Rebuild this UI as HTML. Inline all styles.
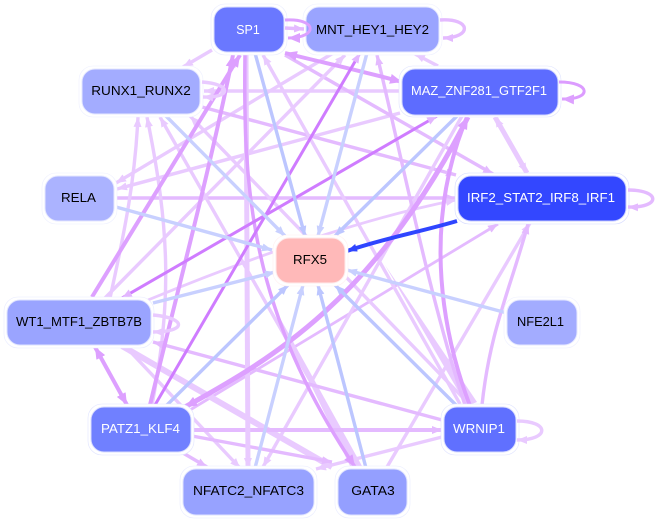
<!DOCTYPE html>
<html><head><meta charset="utf-8"><style>
html,body{margin:0;padding:0;background:#fff;width:657px;height:521px;overflow:hidden}
svg{display:block}
text{font-family:"Liberation Sans",sans-serif;font-size:13.3px;text-anchor:middle}
.l{fill:none;stroke:#e9caff;stroke-width:3.4;marker-end:url(#al)}
.m{fill:none;stroke:#e4baff;stroke-width:3.4;marker-end:url(#am)}
.d{fill:none;stroke:#dda0ff;stroke-width:4;marker-end:url(#ad)}
.p{fill:none;stroke:#cf7cff;stroke-width:3;marker-end:url(#ap)}
.b{fill:none;stroke:#bcc6ff;stroke-width:3.4;marker-end:url(#ab)}
.c{fill:none;stroke:#c8d0ff;stroke-width:3.4;marker-end:url(#ac)}
.n{fill:none;stroke:#2f45ff;stroke-width:4;marker-end:url(#as)}
.o{fill:#fff;stroke-width:.6}
</style></head><body>
<svg width="657" height="521" viewBox="0 0 657 521" xmlns="http://www.w3.org/2000/svg">
<defs>
<marker id="al" markerUnits="userSpaceOnUse" markerWidth="12" markerHeight="10" refX="10" refY="4" orient="auto-start-reverse"><path d="M0,0L10,4L0,8z" fill="#e9caff"/></marker>
<marker id="am" markerUnits="userSpaceOnUse" markerWidth="12" markerHeight="10" refX="10" refY="4" orient="auto-start-reverse"><path d="M0,0L10,4L0,8z" fill="#e4baff"/></marker>
<marker id="ad" markerUnits="userSpaceOnUse" markerWidth="14" markerHeight="12" refX="12" refY="5" orient="auto-start-reverse"><path d="M0,0L12,5L0,10z" fill="#dda0ff"/></marker>
<marker id="ap" markerUnits="userSpaceOnUse" markerWidth="12" markerHeight="10" refX="10" refY="4" orient="auto-start-reverse"><path d="M0,0L10,4L0,8z" fill="#e3b6ff"/></marker>
<marker id="ab" markerUnits="userSpaceOnUse" markerWidth="12" markerHeight="10" refX="10" refY="4" orient="auto-start-reverse"><path d="M0,0L10,4L0,8z" fill="#bcc6ff"/></marker>
<marker id="ac" markerUnits="userSpaceOnUse" markerWidth="12" markerHeight="10" refX="10" refY="4" orient="auto-start-reverse"><path d="M0,0L10,4L0,8z" fill="#c8d0ff"/></marker>
<marker id="as" markerUnits="userSpaceOnUse" markerWidth="12" markerHeight="10" refX="10" refY="4" orient="auto-start-reverse"><path d="M0,0L10,4L0,8z" fill="#2f45ff"/></marker>
</defs>

<!-- light edges -->
<path class="l" d="M212,50L183,67"/>
<path class="l" d="M438,66L415,54"/>
<path class="l" style="stroke-width:5;marker-start:url(#al)" d="M495,117L527,173"/>
<path class="l" d="M402,91L204,91"/>
<path class="l" d="M400,113L117,189"/>
<path class="l" d="M335,52L116,183"/>
<path class="m" d="M116,198L456,198"/>
<path class="m" d="M202,107L456,175"/>
<path class="m" d="M285,55L493,174"/>
<path class="m" style="stroke-width:2.8" d="M190,410L498,224"/>
<path class="l" d="M387,467L530,223"/>
<path class="m" d="M482,405C490,330 510,290 528,224"/>
<path class="l" style="stroke-width:2.8" d="M148,300Q330,225 456,200"/>
<path class="l" d="M470,405L190,116"/>
<polygon points="385,265 467,406 477,402" fill="#e9caff"/>
<path class="l" d="M460,404L263,55"/>
<path class="l" d="M105,298L345,55"/>
<path class="l" d="M462,116L263,467"/>
<path class="l" d="M110,298C125,230 135,180 138,117"/>
<path class="l" d="M152,405C172,300 170,230 147,117"/>
<path class="l" d="M360,468L160,117"/>
<polygon points="270,300 351,468 362,466" fill="#e9caff"/>
<path class="l" d="M125,346L240,468"/>
<path class="l" style="stroke-width:6" d="M122,346L332,467"/>
<path class="m" d="M442,420L153,342"/>
<path class="l" d="M442,437L316,469"/>
<path class="m" style="stroke-width:4" d="M192,430L442,430"/>
<path class="m" d="M192,436L332,462"/>
<path class="m" d="M183,453L207,467"/>
<path class="d" style="stroke-width:4;marker-start:url(#ad)" d="M95,347L127,405"/>
<path class="l" style="stroke-width:5" d="M246,54L248,468"/>
<path class="m" d="M465,405C430,300 400,150 377,55"/>
<path class="d" style="stroke-width:3.500" d="M245,54C243,190 250,310 355,467"/>
<path class="d" style="stroke-width:4;marker-start:url(#ad)" d="M402,82C350,68 320,62 285,53"/>
<path class="d" style="stroke-width:4" d="M92,297L240,55"/>
<path class="d" style="stroke-width:4" d="M150,405C175,300 210,170 233,55"/>
<path class="d" style="stroke-width:5;marker-start:url(#ad)" d="M185,407C270,360 375,300 468,117"/>
<path class="d" d="M470,406C445,340 420,230 467,117"/>
<path class="p" style="marker-start:url(#ap)" d="M437,116L122,298"/>
<path class="p" d="M155,405L360,53"/>

<!-- blue edges -->
<path class="b" d="M255,53L305,236"/>
<path class="c" d="M367,53L318,236"/>
<path class="b" d="M457,116L335,236"/>
<path class="c" d="M165,115L285,236"/>
<path class="c" d="M116,207L272,250"/>
<path class="c" d="M153,303L275,272"/>
<path class="b" d="M166,406L288,285"/>
<path class="c" d="M255,468L303,285"/>
<path class="b" d="M366,468L318,285"/>
<path class="b" d="M457,406L335,285"/>
<path class="c" d="M507,313L347,270"/>
<path class="n" d="M457,221C420,232 385,238 347,251"/>

<!-- nodes -->
<g>
<rect class="o" x="211" y="4" width="76" height="51" rx="14" stroke="#e8ebff"/><rect x="214" y="7" width="70" height="45" rx="13" fill="#6a78ff" stroke="#d8dcff"/>
<text x="248" y="34" fill="#fff" textLength="23.500" lengthAdjust="spacingAndGlyphs">SP1</text>
<rect class="o" x="303" y="4" width="139" height="51" rx="14" stroke="#eef0ff"/><rect x="306" y="7" width="133" height="45" rx="13" fill="#9aa4ff" stroke="#e4e7ff"/>
<text x="372.500" y="34" fill="#000" textLength="113" lengthAdjust="spacingAndGlyphs">MNT_HEY1_HEY2</text>
<rect class="o" x="79" y="66" width="124" height="51" rx="14" stroke="#eef0ff"/><rect x="82" y="69" width="118" height="45" rx="13" fill="#a3acff" stroke="#e4e7ff"/>
<text x="141" y="95" fill="#000" textLength="99.500" lengthAdjust="spacingAndGlyphs">RUNX1_RUNX2</text>
<rect class="o" x="399" y="66" width="162" height="51" rx="14" stroke="#dfe3ff"/><rect x="402" y="69" width="156" height="46" rx="13" fill="#5d6cff" stroke="#d0d5ff"/>
<text x="479" y="95" fill="#fff" textLength="136" lengthAdjust="spacingAndGlyphs">MAZ_ZNF281_GTF2F1</text>
<rect class="o" x="42" y="173" width="75" height="51" rx="14" stroke="#eef0ff"/><rect x="45" y="176" width="69" height="45" rx="13" fill="#abb3ff" stroke="#e4e7ff"/>
<text x="78.500" y="202" fill="#000" textLength="35" lengthAdjust="spacingAndGlyphs">RELA</text>
<rect class="o" x="455" y="173" width="174" height="51" rx="14" stroke="#d5daff"/><rect x="458" y="176" width="168" height="45" rx="13" fill="#3347ff" stroke="#c8ceff"/>
<text x="541" y="202" fill="#fff" textLength="148" lengthAdjust="spacingAndGlyphs">IRF2_STAT2_IRF8_IRF1</text>
<rect class="o" x="273" y="235" width="75" height="51" rx="14" stroke="#fff0f0"/><rect x="276" y="238" width="69" height="45" rx="13" fill="#ffb9b9" stroke="#ffeaea"/>
<text x="310" y="264" fill="#000" textLength="34" lengthAdjust="spacingAndGlyphs">RFX5</text>
<rect class="o" x="4" y="297" width="150" height="51" rx="14" stroke="#e8ebff"/><rect x="7" y="300" width="144" height="45" rx="13" fill="#9aa4ff" stroke="#dfe3ff"/>
<text x="79" y="326" fill="#000" textLength="126" lengthAdjust="spacingAndGlyphs">WT1_MTF1_ZBTB7B</text>
<rect class="o" x="504" y="297" width="76" height="51" rx="14" stroke="#eef0ff"/><rect x="507" y="300" width="70" height="45" rx="13" fill="#a3acff" stroke="#e4e7ff"/>
<text x="540.500" y="326" fill="#000" textLength="47" lengthAdjust="spacingAndGlyphs">NFE2L1</text>
<rect class="o" x="88" y="404" width="106" height="51" rx="14" stroke="#e0e4ff"/><rect x="91" y="407" width="100" height="45" rx="13" fill="#7080ff" stroke="#d8dcff"/>
<text x="140.500" y="433" fill="#fff" textLength="79" lengthAdjust="spacingAndGlyphs">PATZ1_KLF4</text>
<rect class="o" x="441" y="404" width="78" height="51" rx="14" stroke="#e0e4ff"/><rect x="444" y="407" width="72" height="45" rx="13" fill="#6070ff" stroke="#d8dcff"/>
<text x="479" y="433" fill="#fff" textLength="52" lengthAdjust="spacingAndGlyphs">WRNIP1</text>
<rect class="o" x="180" y="466" width="137" height="52" rx="14" stroke="#e8ebff"/><rect x="183" y="469" width="131" height="46" rx="13" fill="#97a2ff" stroke="#dfe3ff"/>
<text x="248.500" y="495" fill="#000" textLength="111" lengthAdjust="spacingAndGlyphs">NFATC2_NFATC3</text>
<rect class="o" x="335" y="466" width="75" height="52" rx="14" stroke="#e8ebff"/><rect x="338" y="469" width="69" height="46" rx="13" fill="#949fff" stroke="#dfe3ff"/>
<text x="373" y="495" fill="#000" textLength="43.500" lengthAdjust="spacingAndGlyphs">GATA3</text>
</g>

<!-- self loops, drawn above nodes -->
<path class="d" style="stroke-width:3" d="M285,20C318,18 318,38 288,38"/>
<path class="m" d="M285,28L304,29"/>
<path class="m" d="M440,20C472,18 472,38 443,38"/>
<path class="d" style="stroke:#dc9cff;stroke-width:3" d="M559,82C592,82 592,100 562,99"/>
<path class="m" d="M628,190C661,190 661,208 628,207"/>
<path class="l" d="M517,421C550,421 550,440 517,440"/>
<path class="l" d="M202,82C232,84 232,98 203,97"/>
<path class="l" d="M153,315C187,318 187,332 153,332"/>
</svg>
</body></html>
